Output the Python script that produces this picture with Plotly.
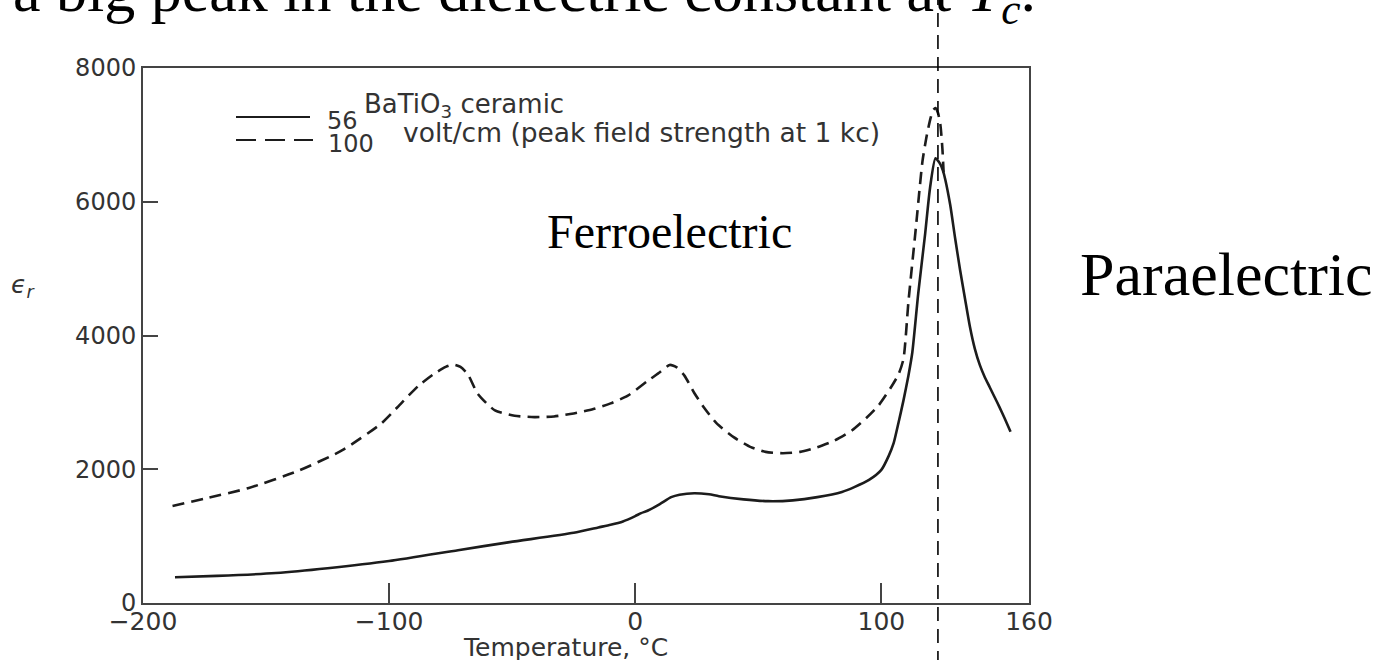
import plotly.graph_objects as go

# BaTiO3 ceramic: relative permittivity vs temperature at two field strengths
temp_56 = [-187, -170, -146, -125, -100, -72, -51, -25, -15, -10, -5, 0, 2.4, 5, 10,
           14.6, 18, 24, 30, 34, 44, 54, 64, 74, 84, 89, 95, 100, 103, 105, 107, 109,
           111, 112.6, 115, 117.8, 119.8, 122, 124, 125, 126, 128, 130, 132, 134, 136,
           138, 140, 142, 144, 146, 148, 150, 152.5]
eps_56 = [385, 405, 448, 520, 627, 790, 910, 1050, 1130, 1170, 1220, 1300, 1344, 1380, 1480,
          1583, 1620, 1642, 1625, 1597, 1550, 1523, 1535, 1583, 1660, 1732, 1840, 1990, 2200,
          2390, 2700, 3030, 3400, 3750, 4630, 5520, 6210, 6650, 6560, 6470, 6330, 5950, 5450,
          4980, 4550, 4130, 3800, 3560, 3380, 3230, 3080, 2930, 2770, 2560]

temp_100 = [-188, -175, -157, -137, -119, -103, -95, -88, -82, -77, -74, -71, -68, -64, -57,
            -49, -41, -33, -25, -17, -10, -3, 5, 10, 14, 17, 20, 24, 28, 33, 40, 47, 53, 60,
            67, 74, 81, 88, 94, 99, 104, 107, 109, 111, 114, 116.7, 118.5, 120, 121, 122,
            123, 124, 124.8, 125.3]
eps_100 = [1450, 1560, 1720, 1975, 2285, 2690, 2990, 3250, 3420, 3530, 3565, 3530, 3420, 3130,
           2880, 2800, 2780, 2790, 2835, 2900, 2985, 3100, 3320, 3450, 3560, 3520, 3400, 3140,
           2920, 2690, 2480, 2330, 2260, 2240, 2260, 2330, 2430, 2580, 2770, 2960, 3230, 3420,
           3650, 4500, 5600, 6600, 7000, 7250, 7370, 7400, 7330, 7150, 6800, 6440]

curie_temp = 123

x_tickvals = [-200, -100, 0, 100, 160]
x_ticktext = ["\u2212200", "\u2212100", "0", "100", "160"]
y_tickvals = [0, 2000, 4000, 6000, 8000]
y_ticktext = ["0", "2000", "4000", "6000", "8000"]

W, H = 1393, 660
L, R, T, B = 143, 364, 68, 57
PW, PH = W - L - R, H - T - B


def px_x(px):
    return (px - L) / PW


def px_y(py):
    return (H - B - py) / PH


INK = "#1c1c1c"
GREY = "#333333"
SANS = "DejaVu Sans"
SERIF = "Liberation Serif"

fig = go.Figure()
fig.add_trace(go.Scatter(
    x=temp_56, y=eps_56, mode="lines", name="56",
    line=dict(color=INK, width=2.6, shape="spline", smoothing=0.6),
    hoverinfo="skip", showlegend=False))
fig.add_trace(go.Scatter(
    x=temp_100, y=eps_100, mode="lines", name="100",
    line=dict(color=INK, width=2.6, dash="12px,7px", shape="spline", smoothing=0.6),
    hoverinfo="skip", showlegend=False))

shapes = [
    # Curie temperature marker through the whole page
    dict(type="line", xref="x", yref="paper", x0=curie_temp, x1=curie_temp,
         y0=px_y(H + 5), y1=px_y(-5), line=dict(color="black", width=1.6, dash="14px,8px"),
         layer="above"),
    # legend line samples
    dict(type="line", xref="paper", yref="paper", x0=px_x(236), x1=px_x(310),
         y0=px_y(117), y1=px_y(117), line=dict(color=INK, width=2)),
    dict(type="line", xref="paper", yref="paper", x0=px_x(236), x1=px_x(313),
         y0=px_y(140), y1=px_y(140), line=dict(color=INK, width=2, dash="20px,9px")),
]

annotations = [
    dict(text="a big peak in the dielectric constant at <i>T<sub>c</sub></i>.",
         xref="paper", yref="paper", x=px_x(11), y=px_y(35), xanchor="left", yanchor="bottom",
         showarrow=False, font=dict(family=SERIF, size=62, color="black")),
    dict(text="Ferroelectric", xref="paper", yref="paper", x=px_x(669), y=px_y(231),
         xanchor="center", yanchor="middle", showarrow=False,
         font=dict(family=SERIF, size=48, color="black")),
    dict(text="Paraelectric", xref="paper", yref="paper", x=px_x(1226), y=px_y(274),
         xanchor="center", yanchor="middle", showarrow=False,
         font=dict(family=SERIF, size=62, color="black")),
    dict(text="BaTiO<sub>3</sub> ceramic", xref="paper", yref="paper", x=px_x(362), y=px_y(106),
         xanchor="left", yanchor="middle", showarrow=False,
         font=dict(family=SANS, size=26, color=GREY)),
    dict(text="56", xref="paper", yref="paper", x=px_x(325), y=px_y(121),
         xanchor="left", yanchor="middle", showarrow=False,
         font=dict(family=SANS, size=24, color=GREY)),
    dict(text="100", xref="paper", yref="paper", x=px_x(326), y=px_y(144),
         xanchor="left", yanchor="middle", showarrow=False,
         font=dict(family=SANS, size=24, color=GREY)),
    dict(text="volt/cm (peak field strength at 1 kc)", xref="paper", yref="paper",
         x=px_x(401), y=px_y(132), xanchor="left", yanchor="middle", showarrow=False,
         font=dict(family=SANS, size=26.5, color=GREY)),
    dict(text="Temperature, \u00b0C", xref="paper", yref="paper", x=px_x(565), y=px_y(647),
         xanchor="center", yanchor="middle", showarrow=False,
         font=dict(family=SANS, size=25, color=GREY)),
    dict(text="<i>\u03f5<sub>r</sub></i>", xref="paper", yref="paper", x=px_x(9), y=px_y(286),
         xanchor="left", yanchor="middle", showarrow=False,
         font=dict(family=SANS, size=25, color=GREY)),
]

axis_common = dict(
    showgrid=False, zeroline=False, showline=True, mirror=True,
    linecolor="#444444", linewidth=2, ticks="inside", tickcolor="#444444", tickwidth=1.5,
)

fig.update_layout(
    width=W, height=H,
    margin=dict(l=L, r=R, t=T, b=B, pad=0),
    paper_bgcolor="white", plot_bgcolor="white",
    xaxis=dict(range=[-200, 160], tickmode="array", tickvals=x_tickvals, ticktext=x_ticktext,
               ticklen=20, ticklabelstandoff=-5,
               tickfont=dict(family=SANS, size=25, color=GREY), **axis_common),
    yaxis=dict(range=[0, 8000], tickmode="array", tickvals=y_tickvals, ticktext=y_ticktext,
               ticklen=15, tickfont=dict(family=SANS, size=24, color=GREY), **axis_common),
    shapes=shapes,
    annotations=annotations,
    showlegend=False,
)

fig.write_html("out.html")
